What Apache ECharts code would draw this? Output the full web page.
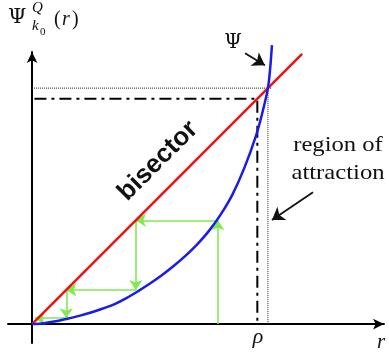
<!DOCTYPE html>
<html><head><meta charset="utf-8">
<script src="https://cdn.jsdelivr.net/npm/echarts@6/dist/echarts.min.js"></script>
<style>html,body{margin:0;padding:0;background:#fff}#c{width:389px;height:353px}</style>
</head><body><div id="c"></div>
<script>
// Blue curve Psi(r) (fixed point scaled to 1)
const curveR   = [0, 0.05, 0.10, 0.15, 0.20, 0.25, 0.30, 0.35, 0.40, 0.45, 0.50, 0.55, 0.60, 0.65, 0.70, 0.75, 0.80, 0.85, 0.90, 0.95, 0.975, 1.0, 1.01, 1.017];
const curvePsi = [0, 0.004, 0.012, 0.023, 0.035, 0.049, 0.066, 0.085, 0.110, 0.140, 0.172, 0.207, 0.246, 0.289, 0.338, 0.395, 0.465, 0.550, 0.662, 0.800, 0.890, 1.0, 1.09, 1.182];
// Bisector end points
const bisectorR = [0, 1.145];
// Cobweb orbit r0 -> r1 -> r2 -> r3
const orbit = [0.788, 0.44, 0.145, 0.025];
const orbitEnd = 0.012;
// Fixed point and rho
const fixedPoint = 1.0;
const rho = 0.955;
// Annotation arrows (data coords)
const psiArrow = [[0.903, 1.148], [0.987, 1.097]];
const regionArrow = [[1.191, 0.559], [1.017, 0.441]];

const curve = curveR.map((r, i) => [r, curvePsi[i]]);
const cobweb = [];
cobweb.push([[orbit[0], 0], [orbit[0], orbit[1]]]);
for (let i = 1; i < orbit.length; i++) {
  cobweb.push([[orbit[i-1], orbit[i]], [i === orbit.length - 1 ? orbitEnd : orbit[i], orbit[i]]]);
  if (i < orbit.length - 1) cobweb.push([[orbit[i], orbit[i]], [orbit[i], orbit[i+1]]]);
}

const chart = echarts.init(document.getElementById('c'), null, {renderer: 'canvas'});
const serif = "'Liberation Serif', 'DejaVu Serif', serif";
const greek = "'DejaVu Serif', 'Liberation Serif', serif";
chart.setOption({
  animation: false,
  backgroundColor: '#fff',
  grid: {left: 8, top: 52, width: 376, height: 291},
  xAxis: {
    type: 'value', min: -0.102, max: 1.492,
    axisLine: {onZero: true, symbol: ['none', 'arrow'], symbolSize: [8, 11], lineStyle: {color: '#000', width: 2}},
    axisTick: {show: false}, axisLabel: {show: false}, splitLine: {show: false}
  },
  yAxis: {
    type: 'value', min: -0.08, max: 1.153,
    axisLine: {onZero: true, symbol: ['none', 'arrow'], symbolSize: [8, 11], lineStyle: {color: '#000', width: 2}},
    axisTick: {show: false}, axisLabel: {show: false}, splitLine: {show: false}
  },
  series: [
    {type: 'line', data: [[0, fixedPoint], [fixedPoint + 0.015, fixedPoint]], symbol: 'none', silent: true,
     lineStyle: {color: '#222', width: 1, type: [1, 1]}},
    {type: 'line', data: [[fixedPoint, 0], [fixedPoint, fixedPoint]], symbol: 'none', silent: true,
     lineStyle: {color: '#222', width: 1, type: [1, 1]}},
    {type: 'line', data: [[0.01, rho], [rho, rho], [rho, 0]], symbol: 'none', silent: true,
     lineStyle: {color: '#000', width: 2, type: [12, 5, 3, 5]}},
    {type: 'line', data: bisectorR.map(r => [r, r]), symbol: 'none', clip: false,
     lineStyle: {color: '#ee1111', width: 2.5}},
    {type: 'line', data: curve, symbol: 'none', smooth: 0.3, clip: false,
     lineStyle: {color: '#1a1aee', width: 2.5}},
    {type: 'lines', coordinateSystem: 'cartesian2d', symbol: ['none', 'arrow'], symbolSize: [8, 10],
     lineStyle: {color: '#80ea50', width: 1.6, opacity: 1},
     data: cobweb.map(c => ({coords: c}))},
    {type: 'lines', coordinateSystem: 'cartesian2d', symbol: ['none', 'arrow'], symbolSize: [9, 12],
     lineStyle: {color: '#111', width: 1.8, opacity: 1},
     data: [{coords: psiArrow}, {coords: regionArrow}]}
  ],
  graphic: [
    {type: 'text', left: 8, top: 7, style: {text: 'Ψ', font: '21px ' + greek, fill: '#111'}},
    {type: 'text', left: 32, top: 1, style: {text: 'Q', font: 'italic 15px ' + serif, fill: '#111'}},
    {type: 'text', left: 32, top: 19, style: {text: 'k', font: 'italic 15px ' + serif, fill: '#111'}},
    {type: 'text', left: 40, top: 27, style: {text: '0', font: '11px ' + serif, fill: '#111'}},
    {type: 'text', left: 54, top: 10, style: {text: '(', font: '20px ' + serif, fill: '#111'}},
    {type: 'text', left: 62, top: 10, style: {text: 'r', font: 'italic 20px ' + serif, fill: '#111'}},
    {type: 'text', left: 72, top: 10, style: {text: ')', font: '20px ' + serif, fill: '#111'}},
    {type: 'text', x: 233, y: 43, style: {text: 'Ψ', font: '20px ' + greek, fill: '#111', align: 'center', verticalAlign: 'middle'}},
    {type: 'text', x: 338, y: 145, scaleX: 1.12, style: {text: 'region of', font: '22px ' + serif, fill: '#111', align: 'center', verticalAlign: 'middle'}},
    {type: 'text', x: 338, y: 173, scaleX: 1.12, style: {text: 'attraction', font: '22px ' + serif, fill: '#111', align: 'center', verticalAlign: 'middle'}},
    {type: 'text', x: 258, y: 337, style: {text: 'ρ', font: 'italic 22px ' + serif, fill: '#111', align: 'center', verticalAlign: 'middle'}},
    {type: 'text', x: 381, y: 342, style: {text: 'r', font: 'italic 21px ' + serif, fill: '#111', align: 'center', verticalAlign: 'middle'}},
    {type: 'text', x: 158, y: 161, rotation: Math.PI / 4, style: {text: 'bisector', font: "bold 26px 'Liberation Sans', Arial, sans-serif", fill: '#111', align: 'center', verticalAlign: 'middle'}}
  ]
});
</script></body></html>
